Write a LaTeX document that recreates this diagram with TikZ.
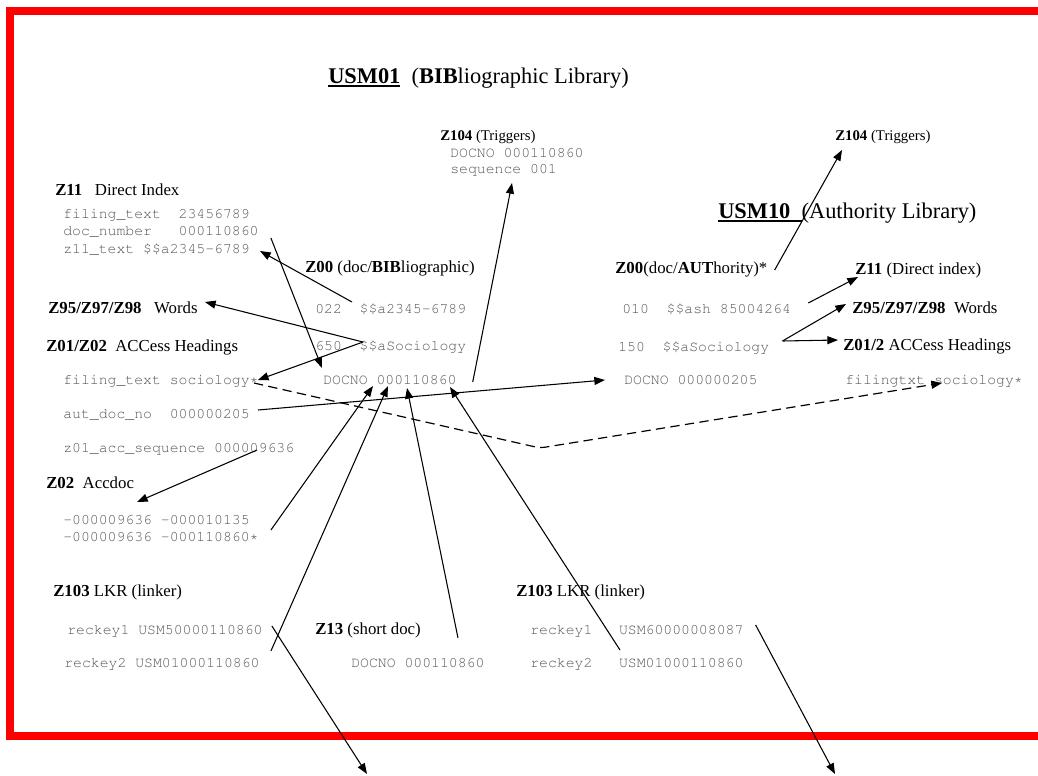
\documentclass[tikz,border=0pt]{standalone}
\usepackage[T1,TU]{fontenc}
\usepackage{fontspec}
\setmainfont{Liberation Serif}
\usetikzlibrary{arrows.meta,calc}

\definecolor{framered}{RGB}{255,0,0}
\definecolor{codegray}{RGB}{85,85,85}

% Courier for the field dumps
\newcommand\codefont{\fontencoding{T1}\fontfamily{pcr}\selectfont}

% heavy underline for the library names
\newsavebox\ulsave
\newcommand\ulbox[1]{\sbox\ulsave{#1}\rlap{\rule[-3.2pt]{\wd\ulsave}{1.5pt}}\usebox\ulsave}

\tikzset{
  txt/.style={inner sep=0pt, anchor=base west},
  lbl/.style={txt, font=\fontsize{12.6}{15}\selectfont},
  ttl/.style={txt, font=\fontsize{16.8}{20}\selectfont},
  sml/.style={txt, font=\fontsize{11.1}{13}\selectfont},
  codetxt/.style={txt, text=codegray, font=\codefont\fontsize{11.1}{13}\selectfont},
  arr/.style={-{Triangle[length=8pt,width=6pt]}, line width=0.8pt},
  link/.style={arr, line width=0.9pt, dash pattern=on 7pt off 4pt},
}

\begin{document}
\begin{tikzpicture}[x=0.75pt,y=-0.75pt]
\useasboundingbox (0,0) rectangle (1038,775);
\clip (0,0) rectangle (1038,775);
\fill[white] (0,0) rectangle (1038,775);

% red frame, open on the right
\draw[framered, line width=6pt, line join=miter] (1060,736) -- (10,736) -- (10,11) -- (1060,11);

% ---------- bibliographic library ----------
\node[ttl] (usm01) at (328,83) {\ulbox{\textbf{USM01}}\ \ (\textbf{BIB}liographic Library)};

\node[sml] (z104a) at (440,140) {\textbf{Z104} (Triggers)};
\node[codetxt] (z104a1) at (450,157) {DOCNO 000110860};
\node[codetxt] (z104a2) at (450,173) {sequence 001};

\node[lbl] (z11h) at (55,195) {\textbf{Z11}\ \ \ Direct Index};
\node[codetxt] (z11a) at (63,218) {filing\_text~~23456789};
\node[codetxt] (z11b) at (63,235) {doc\_number~~~000110860};
\node[codetxt] (z11c) at (63,253) {z11\_text \$\$a2345-6789};

\node[lbl] (z00h) at (305,272) {\textbf{Z00} (doc/\textbf{BIB}liographic)};
\node[codetxt] (z00a) at (315,313) {022~~\$\$a2345-6789};
\node[codetxt] (z00b) at (315,350) {650~~\$\$aSociology};
\node[codetxt] (z00c) at (323,384) {DOCNO 000110860};

\node[lbl] (z95h) at (48,313) {\textbf{Z95/Z97/Z98}\ \ \ Words};
\node[lbl] (z01h) at (46,351) {\textbf{Z01/Z02}\ \ ACCess Headings};
\node[codetxt] (z01a) at (63,384) {filing\_text sociology*};
\node[codetxt] (z01b) at (63,418) {aut\_doc\_no~~000000205};
\node[codetxt] (z01c) at (63,452) {z01\_acc\_sequence 000009636};

\node[lbl] (z02h) at (46,488) {\textbf{Z02}\ \ Accdoc};
\node[codetxt] (z02a) at (63,524) {-000009636 -000010135};
\node[codetxt] (z02b) at (63,541) {-000009636 -000110860*};

\node[lbl] (z103h) at (53,596) {\textbf{Z103} LKR (linker)};
\node[codetxt] (z103a) at (67,634) {reckey1 USM50000110860};
\node[codetxt] (z103b) at (64,667) {reckey2 USM01000110860};

\node[lbl] (z13h) at (315,634) {\textbf{Z13} (short doc)};
\node[codetxt] (z13a) at (351,667) {DOCNO 000110860};

\node[lbl] (z103rh) at (516,596) {\textbf{Z103} LKR (linker)};
\node[codetxt] (z103ra) at (530,634) {reckey1~~~USM60000008087};
\node[codetxt] (z103rb) at (530,667) {reckey2~~~USM01000110860};

% ---------- authority library ----------
\node[sml] (z104b) at (835,140) {\textbf{Z104} (Triggers)};
\node[ttl] (usm10) at (718,218) {\ulbox{\textbf{USM10}\ \ }(Authority Library)};

\node[lbl] (z00ah) at (615,273) {\textbf{Z00}(doc/\textbf{AUT}hority)*};
\node[codetxt] (z00aa) at (622,313) {010~~\$\$ash 85004264};
\node[codetxt] (z00ab) at (618,351) {150~~\$\$aSociology};
\node[codetxt] (z00ac) at (624,384) {DOCNO 000000205};

\node[lbl] (z11rh) at (855,274) {\textbf{Z11} (Direct index)};
\node[lbl] (z95rh) at (852,313) {\textbf{Z95/Z97/Z98}\ \ Words};
\node[lbl] (z01rh) at (843,350) {\textbf{Z01/2} ACCess Headings};
\node[codetxt] (z01ra) at (845,384) {filingtxt sociology*};

% free ends below the frame
\coordinate (outA) at (367,774);
\coordinate (outB) at (835,774);
\coordinate (bend) at (540,448);

% ---------- connectors ----------
\draw[arr] ($(z00c.base east)+(16,-2)$) -- ($(z104a2.base west)+(62,10)$);
\draw[arr] ($(z11b.base east)+(12,3)$) -- ($(z00c.base west)+(-1,-16)$);
\draw[arr] ($(z00a.base west)+(37,-11)$) -- ($(z11c.base east)+(10,-2)$);
\draw[arr] ($(z00b.base west)+(48,-8)$) -- ($(z95h.base east)+(7,-11)$);
\draw[arr] ($(z00b.base west)+(48,-8)$) -- ($(z01a.base east)+(-1,-4)$);
\draw[arr] ($(z01b.base east)+(8,-8)$) -- ($(z00ac.base west)+(-19,-4)$);
\draw[link, rounded corners=4pt] ($(z01a.base east)+(-5,-1)$) -- (bend) -- ($(z01ra.base west)+(97,-1)$);
\draw[arr] ($(z01c.base west)+(194,-2)$) -- ($(z02h.base west)+(91,14)$);
\draw[arr] ($(z02b.base east)+(12,-11)$) -- ($(z00c.base west)+(50,2)$);
\draw[arr] ($(z103b.base east)+(11,-16)$) -- ($(z00c.base west)+(65,2)$);
\draw[arr] ($(z13a.base west)+(107,-29)$) -- ($(z00c.base west)+(84,4)$);
\draw[arr] ($(z103rb.base west)+(90,-17)$) -- ($(z00c.base west)+(127,3)$);
\draw[arr] ($(z103a.base east)+(9,-8)$) -- (outA);
\draw[arr] ($(z103ra.base east)+(12,-9)$) -- (outB);

\draw[arr] ($(z00ah.base east)+(7,-3)$) -- ($(z104b.base west)+(7,10)$);
\draw[arr] ($(z00aa.base east)+(17,-10)$) -- ($(z11rh.base west)+(3,3)$);
\draw[arr] ($(z00ab.base east)+(13,-10)$) -- ($(z95rh.base west)+(-6,-9)$);
\draw[arr] ($(z00ab.base east)+(13,-10)$) -- ($(z01rh.base west)+(-5,-10)$);
\end{tikzpicture}
\end{document}
